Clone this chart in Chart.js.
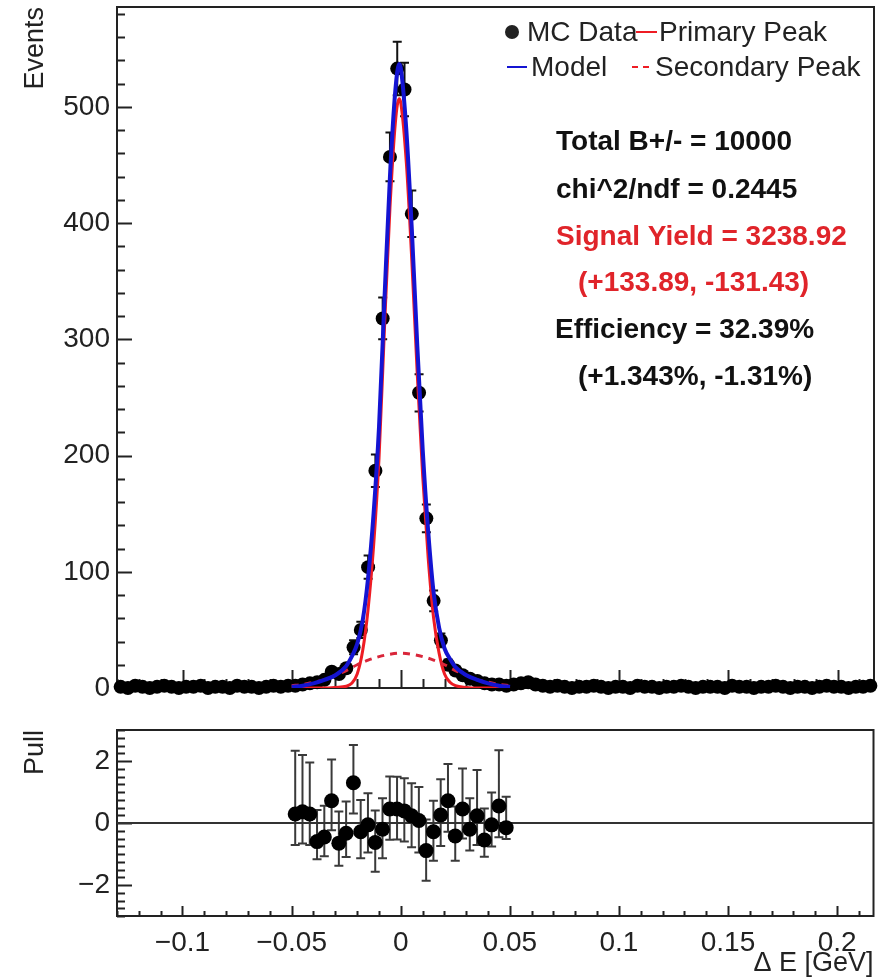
<!DOCTYPE html>
<html>
<head>
<meta charset="utf-8">
<script src="https://cdn.jsdelivr.net/npm/chart.js@4.4.0/dist/chart.umd.min.js"></script>
<style>
  body { margin: 0; background: #fff; overflow: hidden; }
  #wrap { position: relative; width: 881px; height: 980px; }
  #top { position: absolute; left: 0; top: 0; }
  #bottom { position: absolute; left: 0; top: 700px; }
</style>
</head>
<body>
<div id="wrap">
  <canvas id="top" width="881" height="700"></canvas>
  <canvas id="bottom" width="881" height="280"></canvas>
</div>
<script>
// --- binning of the Delta E histogram ---
const xLow = -0.13;
const binWidth = 1 / 300;

// events per bin (104 bins)
const counts = [
  1, 0, 2, 1, 0, 1, 2, 1, 0, 1, 1, 2, 0, 1, 1, 0, 2, 1, 1, 0, 1, 2, 1, 2,
  2, 3, 4, 5, 7, 14, 12, 17, 35, 50, 104, 187, 318, 457, 533, 515, 408, 254, 146, 75, 41, 20, 15, 11, 8, 6, 4, 3, 3, 2,
  3, 4, 5, 3, 2, 1, 2, 1, 0, 1, 1, 2, 1, 0, 1, 1, 0, 2, 1, 1,
  0, 1, 1, 2, 1, 0, 1, 1, 1, 0, 2, 1, 1, 0, 1, 1, 2, 1, 0, 1,
  1, 0, 1, 2, 1, 1, 0, 1, 1, 2
];
// visible error bars around the peak
const errFirstBin = 32;
const countErr = [6, 7, 10, 14, 18, 21, 23, 23, 20, 16, 12, 9, 6, 4.5];

// fitted curves
const modelX = [-0.05, -0.045, -0.04, -0.035, -0.03, -0.025, -0.0225, -0.02, -0.0175, -0.015, -0.0125, -0.01, -0.0075, -0.005, -0.0025, -0.0008,
  0, 0.0025, 0.005, 0.0075, 0.01, 0.0125, 0.015, 0.0175, 0.02, 0.0225, 0.025, 0.03, 0.035, 0.04, 0.045, 0.05];
const modelY = [1, 2, 4, 7, 11, 19, 27, 38, 58, 95, 150, 225, 335, 440, 515, 537,
  533, 480, 395, 295, 205, 135, 82, 52, 34, 25, 18, 11, 7, 4, 2, 1];
const primaryY = [0, 0, 0, 0, 0.5, 1.5, 4, 12, 32, 68, 122, 198, 310, 413, 487, 507,
  503, 452, 368, 270, 182, 112, 60, 30, 12, 5, 2, 0.5, 0, 0, 0, 0];
const secondaryX = [-0.05, -0.045, -0.04, -0.035, -0.03, -0.025, -0.02, -0.015, -0.01, -0.005, 0,
  0.005, 0.01, 0.015, 0.02, 0.025, 0.03, 0.035, 0.04, 0.045, 0.05];
const secondaryY = [2, 3, 5, 7, 11, 15, 20, 24, 27, 29, 30, 29, 27, 24, 20, 15, 11, 7, 5, 3, 2];

// pulls in the fit range (bins 24..53)
const pullFirstBin = 24;
const pullValues = [0.29, 0.36, 0.29, -0.6, -0.45, 0.72, -0.65, -0.33, 1.3, -0.28, -0.06, -0.63, -0.2, 0.45, 0.45,
  0.39, 0.23, 0.08, -0.89, -0.28, 0.26, 0.72, -0.42, 0.45, -0.2, 0.23, -0.55, -0.06, 0.55, -0.15];
const pullErrHi = [2.04, 1.83, 1.66, 1.02, 1.01, 1.33, 1.02, 1.02, 1.22, 1.02, 1.02, 1.03, 1.0, 1.05, 1.04,
  1.05, 1.05, 1.08, 1.0, 1.0, 1.15, 1.18, 0.95, 1.31, 1.0, 1.48, 1.02, 1.04, 1.8, 1.0];
const pullErrLo = [1.0, 1.02, 1.0, 0.57, 0.62, 0.95, 0.73, 0.77, 0.99, 0.86, 0.89, 0.94, 0.94, 0.99, 0.98,
  0.99, 1.01, 1.03, 0.97, 0.94, 1.0, 1.0, 0.8, 0.95, 0.69, 0.94, 0.54, 0.7, 1.01, 0.37];

// ticks and labels
const xTicks = [-0.1, -0.05, 0, 0.05, 0.1, 0.15, 0.2];
const eventTicks = [0, 100, 200, 300, 400, 500];
const pullTicks = [-2, 0, 2];
const legendLabels = ['MC Data', 'Primary Peak', 'Model', 'Secondary Peak'];
const infoLines = ['Total B+/- = 10000', 'chi^2/ndf = 0.2445', 'Signal Yield = 3238.92',
  '(+133.89, -131.43)', 'Efficiency = 32.39%', '(+1.343%, -1.31%)'];

const FONT = '"Liberation Sans", Arial, Helvetica, sans-serif';
const BLUE = '#1414d2';
const RED = '#ee1c24';
const TEXT_RED = '#e0242a';
Chart.defaults.font.family = FONT;
Chart.defaults.color = '#222';

const xHigh = xLow + counts.length * binWidth;
const binCenters = counts.map((_, i) => xLow + (i + 0.5) * binWidth);

const fmt = v => {
  const s = String(+Math.abs(v).toFixed(3));
  return v < 0 ? '\u2212' + s : s;
};

// inward ROOT-style ticks + frame
const rootFrame = {
  id: 'rootFrame',
  beforeDatasetsDraw(chart, args, o) {
    const { ctx, chartArea: a, scales: { x, y } } = chart;
    ctx.save();
    ctx.strokeStyle = '#222';
    ctx.lineWidth = 2;
    ctx.strokeRect(a.left, a.top, a.right - a.left, a.bottom - a.top);
    ctx.beginPath();
    for (let v = o.xMinorStart; v <= x.max + 1e-9; v += o.xMinorStep) {
      const px = Math.round(x.getPixelForValue(v)) + 0.5;
      ctx.moveTo(px, a.bottom); ctx.lineTo(px, a.bottom - o.xMinorLen);
    }
    xTicks.forEach(v => {
      const px = Math.round(x.getPixelForValue(v)) + 0.5;
      ctx.moveTo(px, a.bottom); ctx.lineTo(px, a.bottom - o.xMajorLen);
    });
    for (let v = y.min; v <= y.max + 1e-9; v += o.yMinorStep) {
      const py = Math.round(y.getPixelForValue(v)) + 0.5;
      ctx.moveTo(a.left, py); ctx.lineTo(a.left + o.yMinorLen, py);
    }
    o.yMajor.forEach(v => {
      const py = Math.round(y.getPixelForValue(v)) + 0.5;
      ctx.moveTo(a.left, py); ctx.lineTo(a.left + o.yMajorLen, py);
    });
    ctx.stroke();
    ctx.restore();
  }
};

// vertical error bars with caps
const errorBars = {
  id: 'errorBars',
  beforeDatasetsDraw(chart) {
    const { ctx, scales: { x, y } } = chart;
    chart.data.datasets.forEach(ds => {
      if (!ds.errHi) return;
      ctx.save();
      ctx.strokeStyle = ds.errColor;
      ctx.lineWidth = 2;
      ctx.beginPath();
      ds.data.forEach((p, j) => {
        const hi = ds.errHi[j], lo = ds.errLo[j];
        if (hi == null) return;
        const px = x.getPixelForValue(p.x);
        const yt = y.getPixelForValue(p.y + hi), yb = y.getPixelForValue(p.y - lo);
        ctx.moveTo(px, yt); ctx.lineTo(px, yb);
        ctx.moveTo(px - 4.5, yt); ctx.lineTo(px + 4.5, yt);
        ctx.moveTo(px - 4.5, yb); ctx.lineTo(px + 4.5, yb);
      });
      ctx.stroke();
      ctx.restore();
    });
  }
};

// legend and fit summary text
const fitInfo = {
  id: 'fitInfo',
  afterDraw(chart) {
    const ctx = chart.ctx;
    ctx.save();
    ctx.textBaseline = 'middle';
    ctx.textAlign = 'left';
    ctx.font = '28px ' + FONT;
    ctx.fillStyle = '#222';
    ctx.beginPath(); ctx.arc(512, 32, 7, 0, Math.PI * 2); ctx.fill();
    ctx.fillText(legendLabels[0], 527, 33);
    ctx.fillText(legendLabels[1], 659, 33);
    ctx.fillText(legendLabels[2], 531, 68);
    ctx.fillText(legendLabels[3], 655, 68);
    ctx.lineWidth = 2;
    ctx.strokeStyle = RED;
    ctx.beginPath(); ctx.moveTo(636, 32); ctx.lineTo(657, 32); ctx.stroke();
    ctx.setLineDash([6, 5]);
    ctx.beginPath(); ctx.moveTo(632, 67); ctx.lineTo(652, 67); ctx.stroke();
    ctx.setLineDash([]);
    ctx.strokeStyle = BLUE;
    ctx.beginPath(); ctx.moveTo(507, 67); ctx.lineTo(527, 67); ctx.stroke();

    ctx.font = 'bold 28px ' + FONT;
    const xs = [556, 556, 556, 578, 555, 578];
    const ys = [142, 190, 237, 283, 330, 377];
    const cols = ['#111', '#111', TEXT_RED, TEXT_RED, '#111', '#111'];
    infoLines.forEach((t, i) => {
      ctx.fillStyle = cols[i];
      ctx.fillText(t, xs[i], ys[i]);
    });
    ctx.restore();
  }
};

const tickFont = { size: 28 };

new Chart(document.getElementById('top'), {
  type: 'scatter',
  data: {
    datasets: [
      {
        label: 'Model',
        data: modelX.map((x, i) => ({ x, y: modelY[i] })),
        showLine: true, borderColor: BLUE, borderWidth: 4, pointRadius: 0,
        cubicInterpolationMode: 'monotone', order: 0
      },
      {
        label: 'Secondary Peak',
        data: secondaryX.map((x, i) => ({ x, y: secondaryY[i] })),
        showLine: true, borderColor: '#d9263a', borderWidth: 3, borderDash: [7, 6], pointRadius: 0,
        cubicInterpolationMode: 'monotone', order: 1
      },
      {
        label: 'Primary Peak',
        data: modelX.map((x, i) => ({ x, y: primaryY[i] })),
        showLine: true, borderColor: RED, borderWidth: 3, pointRadius: 0,
        cubicInterpolationMode: 'monotone', order: 2
      },
      {
        label: 'MC Data',
        data: counts.map((c, i) => ({ x: binCenters[i], y: c })),
        pointRadius: 7, pointBackgroundColor: '#000', pointBorderWidth: 0,
        clip: false, order: 3,
        errHi: counts.map((_, i) => countErr[i - errFirstBin]),
        errLo: counts.map((_, i) => countErr[i - errFirstBin]),
        errColor: '#111'
      }
    ]
  },
  options: {
    responsive: false,
    animation: false,
    events: [],
    layout: { padding: { top: 5, right: 5, left: 0, bottom: 0 } },
    plugins: {
      legend: { display: false },
      tooltip: { enabled: false },
      rootFrame: {
        xMinorStart: -0.13, xMinorStep: 0.01, xMinorLen: 9, xMajorLen: 18,
        yMajor: eventTicks, yMinorStep: 20, yMinorLen: 8, yMajorLen: 15
      }
    },
    scales: {
      x: {
        type: 'linear', min: xLow, max: xHigh,
        grid: { display: false, drawTicks: false }, border: { display: false },
        ticks: { display: false },
        afterBuildTicks: s => { s.ticks = xTicks.map(value => ({ value })); },
        afterFit: s => { s.height = 12; s.paddingLeft = 0; s.paddingRight = 0; }
      },
      y: {
        type: 'linear', min: 0, max: 586,
        grid: { display: false, drawTicks: false }, border: { display: false },
        ticks: { padding: 7, font: tickFont, color: '#222', callback: v => fmt(v) },
        afterBuildTicks: s => { s.ticks = eventTicks.map(value => ({ value })); },
        afterFit: s => { s.width = 117; s.paddingTop = 0; s.paddingBottom = 0; },
        title: { display: true, text: 'Events', align: 'end', color: '#222', font: { size: 27 }, padding: { top: 19, bottom: 0 } }
      }
    }
  },
  plugins: [rootFrame, errorBars, fitInfo]
});

new Chart(document.getElementById('bottom'), {
  type: 'scatter',
  data: {
    datasets: [
      {
        label: 'Pull',
        data: pullValues.map((v, i) => ({ x: binCenters[pullFirstBin + i], y: v })),
        pointRadius: 7.5, pointBackgroundColor: '#000', pointBorderWidth: 0,
        clip: false, order: 0,
        errHi: pullErrHi, errLo: pullErrLo, errColor: '#3a3a3a'
      },
      {
        label: 'zero',
        data: [{ x: xLow, y: 0 }, { x: xHigh, y: 0 }],
        showLine: true, borderColor: '#333', borderWidth: 2, pointRadius: 0, order: 1
      }
    ]
  },
  options: {
    responsive: false,
    animation: false,
    events: [],
    layout: { padding: { top: 30, right: 5, left: 0, bottom: 0 } },
    plugins: {
      legend: { display: false },
      tooltip: { enabled: false },
      rootFrame: {
        xMinorStart: -0.13, xMinorStep: 0.01, xMinorLen: 5, xMajorLen: 10,
        yMajor: pullTicks, yMinorStep: 0.25, yMinorLen: 8, yMajorLen: 15
      }
    },
    scales: {
      x: {
        type: 'linear', min: xLow, max: xHigh,
        grid: { display: false, drawTicks: false }, border: { display: false },
        ticks: { padding: 10, font: tickFont, color: '#222', maxRotation: 0, callback: v => fmt(v) },
        afterBuildTicks: s => { s.ticks = xTicks.map(value => ({ value })); },
        afterFit: s => { s.height = 64; s.paddingLeft = 0; s.paddingRight = 0; },
        title: { display: true, text: '\u0394 E [GeV]', align: 'end', color: '#222', font: { size: 27 }, padding: { top: 0, bottom: 0 } }
      },
      y: {
        type: 'linear', min: -3, max: 3,
        grid: { display: false, drawTicks: false }, border: { display: false },
        ticks: { padding: 7, font: tickFont, color: '#222', callback: v => fmt(v) },
        afterBuildTicks: s => { s.ticks = pullTicks.map(value => ({ value })); },
        afterFit: s => { s.width = 117; s.paddingTop = 0; s.paddingBottom = 0; },
        title: { display: true, text: 'Pull', align: 'end', color: '#222', font: { size: 27 }, padding: { top: 19, bottom: 0 } }
      }
    }
  },
  plugins: [rootFrame, errorBars]
});
</script>
</body>
</html>
